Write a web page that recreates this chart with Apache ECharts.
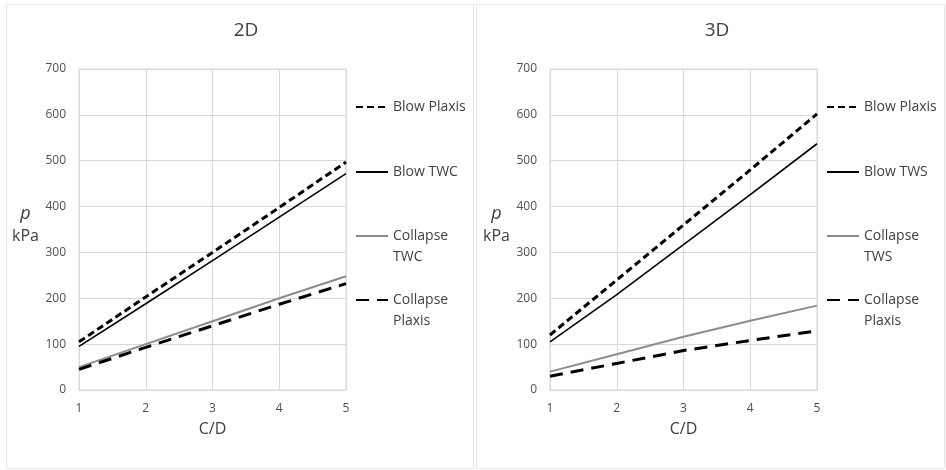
<!DOCTYPE html>
<html>
<head>
<meta charset="utf-8">
<title>2D / 3D</title>
<script src="https://cdn.jsdelivr.net/npm/echarts@6/dist/echarts.min.js"></script>
<style>
    html, body { margin: 0; padding: 0; background: #fff; }
    #main { width: 946px; height: 470px; }
</style>
</head>
<body>
<div id="main"></div>
<script>
    // C/D values on the x axis
    var cd = [1, 2, 3, 4, 5];

    // 2D panel
    var blowPlaxis2D = [105, 203, 300, 398, 497];
    var blowTWC2D = [95, 188, 282, 377, 472];
    var collapseTWC2D = [50, 100, 150, 200, 248];
    var collapsePlaxis2D = [45, 93, 140, 187, 232];

    // 3D panel
    var blowPlaxis3D = [120, 240, 360, 480, 602];
    var blowTWS3D = [105, 208, 317, 426, 537];
    var collapseTWS3D = [40, 78, 116, 151, 184];
    var collapsePlaxis3D = [30, 58, 86, 108, 129];

    var yTicks = [0, 100, 200, 300, 400, 500, 600, 700];

    var font = '"Open Sans", "Liberation Sans", sans-serif';
    var gridColor = '#d9d9d9';
    var labelColor = '#505050';

    function pairs(ys) {
        return cd.map(function (x, i) { return [x, ys[i]]; });
    }

    // line styles per kind of series
    var styles = {
        blowPlaxis: { color: '#000', width: 3, type: [7, 4] },
        blowTwo: { color: '#000', width: 1.6, type: 'solid' },
        collapseTwo: { color: '#8c8c8c', width: 2, type: 'solid' },
        collapsePlaxis: { color: '#000', width: 3, type: [13, 8] }
    };

    function line(name, ys, kind, idx) {
        return {
            name: name,
            type: 'line',
            xAxisIndex: idx,
            yAxisIndex: idx,
            data: pairs(ys),
            symbol: 'none',
            silent: true,
            lineStyle: styles[kind],
            itemStyle: { color: styles[kind].color }
        };
    }

    function xAxis(idx) {
        return {
            type: 'value', gridIndex: idx, min: 1, max: 5, interval: 1,
            name: 'C/D', nameLocation: 'middle', nameGap: 31,
            nameTextStyle: { fontFamily: font, fontSize: 16, color: '#404040' },
            axisLine: { lineStyle: { color: gridColor } },
            axisTick: { show: false },
            axisLabel: { fontFamily: font, fontSize: 12, color: labelColor, margin: 13 },
            splitLine: { lineStyle: { color: gridColor } }
        };
    }

    function yAxis(idx) {
        return {
            type: 'value', gridIndex: idx, min: yTicks[0], max: yTicks[yTicks.length - 1], interval: 100,
            name: '{p|p}\n{u|kPa}', nameLocation: 'middle', nameRotate: 0, nameGap: 40,
            nameTextStyle: {
                fontFamily: font, color: '#404040', padding: [0, 0, 9, 0],
                rich: {
                    p: { fontFamily: font, fontSize: 18, fontStyle: 'italic', lineHeight: 22, align: 'center' },
                    u: { fontFamily: font, fontSize: 16, lineHeight: 22, align: 'center' }
                }
            },
            axisLine: { show: true, lineStyle: { color: gridColor } },
            axisTick: { show: false },
            axisLabel: { fontFamily: font, fontSize: 12, color: labelColor, margin: 13 },
            splitLine: { lineStyle: { color: gridColor } }
        };
    }

    // legend entries: [series name, label, left, y of first line]
    var legendItems = [
        ['Blow Plaxis', 'Blow Plaxis', 355, 107],
        ['Blow TWC', 'Blow TWC', 355, 172],
        ['Collapse TWC', 'Collapse\nTWC', 355, 236],
        ['Collapse Plaxis', 'Collapse\nPlaxis', 355, 300],
        ['Blow Plaxis', 'Blow Plaxis', 826, 107],
        ['Blow TWS', 'Blow TWS', 826, 172],
        ['Collapse TWS', 'Collapse\nTWS', 826, 236],
        ['Collapse Plaxis', 'Collapse\nPlaxis', 826, 300]
    ];

    var legends = legendItems.map(function (it) {
        var twoLines = it[1].indexOf('\n') >= 0;
        // blank line on top keeps the first text line level with the icon
        var label = twoLines ? '\u00a0\n' + it[1] : it[1];
        return {
            data: [it[0]],
            left: it[2],
            top: twoLines ? it[3] - 31.5 : it[3] - 10.5,
            itemWidth: 32,
            itemHeight: 14,
            padding: 0,
            selectedMode: false,
            itemStyle: { opacity: 0 },
            formatter: function () { return label; },
            textStyle: { fontFamily: font, fontSize: 14, color: '#404040', lineHeight: 21 }
        };
    });

    var chart = echarts.init(document.getElementById('main'));
    chart.setOption({
        animation: false,
        backgroundColor: '#fff',
        graphic: [
            { type: 'rect', shape: { x: 6.5, y: 4.5, width: 467, height: 464 }, style: { fill: 'none', stroke: '#e6e6e6', lineWidth: 1 }, silent: true },
            { type: 'rect', shape: { x: 476.5, y: 4.5, width: 468, height: 464 }, style: { fill: 'none', stroke: '#e6e6e6', lineWidth: 1 }, silent: true }
        ],
        title: [
            { text: '2D', left: 241, top: 16, textAlign: 'center', textStyle: { fontFamily: font, fontSize: 19, fontWeight: 'normal', color: '#404040' } },
            { text: '3D', left: 712, top: 16, textAlign: 'center', textStyle: { fontFamily: font, fontSize: 19, fontWeight: 'normal', color: '#404040' } }
        ],
        legend: legends,
        grid: [
            { left: 79, top: 69, width: 267, height: 321, show: true, borderColor: gridColor, borderWidth: 1 },
            { left: 550, top: 69, width: 267, height: 321, show: true, borderColor: gridColor, borderWidth: 1 }
        ],
        xAxis: [xAxis(0), xAxis(1)],
        yAxis: [yAxis(0), yAxis(1)],
        series: [
            line('Blow Plaxis', blowPlaxis2D, 'blowPlaxis', 0),
            line('Blow TWC', blowTWC2D, 'blowTwo', 0),
            line('Collapse TWC', collapseTWC2D, 'collapseTwo', 0),
            line('Collapse Plaxis', collapsePlaxis2D, 'collapsePlaxis', 0),
            line('Blow Plaxis', blowPlaxis3D, 'blowPlaxis', 1),
            line('Blow TWS', blowTWS3D, 'blowTwo', 1),
            line('Collapse TWS', collapseTWS3D, 'collapseTwo', 1),
            line('Collapse Plaxis', collapsePlaxis3D, 'collapsePlaxis', 1)
        ]
    });
</script>
</body>
</html>
